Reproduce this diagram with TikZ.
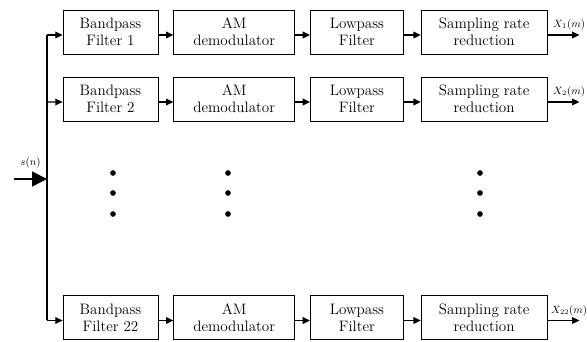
\documentclass[tikz,border=0pt]{standalone}
\usepackage{fontspec}
\usepackage{tikz}
\usetikzlibrary{arrows.meta,positioning}

\begin{document}
\begin{tikzpicture}[
    node distance=0.45cm,
    block/.style={rectangle, draw, line width=0.6pt, align=center, inner sep=0pt, minimum height=1.32cm, font=\rmfamily\fontsize{12.9}{14.6}\selectfont},
    arrow/.style={-{Triangle[length=0.22cm, width=0.2cm]}, line width=1.1pt},
    bigarrow/.style={-{Triangle[length=0.45cm, width=0.45cm]}, line width=1.3pt},
    dot/.style={circle, fill, inner sep=0pt, minimum size=0.17cm}
]
\useasboundingbox (0,0) rectangle (17.61,-10.26);

% Channel rows
\foreach \r/\y/\k in {1/-0.96/1, 2/-2.97/2, 3/-9.525/22} {
  \node[block, minimum width=2.85cm] (bp\r) at (3.315,\y) {Bandpass\\Filter \k};
  \node[block, minimum width=3.63cm, right=of bp\r] (am\r) {AM\\demodulator};
  \node[block, minimum width=2.79cm, right=of am\r] (lp\r) {Lowpass\\Filter};
  \node[block, minimum width=3.78cm, right=0.51cm of lp\r] (sr\r) {Sampling rate\\reduction};
  \coordinate[right=0.96cm of sr\r] (out\r);
  \coordinate (bus\r) at (1.41,\y-0.09);

  \draw[arrow] (bus\r) -- ([yshift=-0.09cm]bp\r.west);
  \draw[arrow] ([yshift=-0.09cm]bp\r.east) -- ([yshift=-0.09cm]am\r.west);
  \draw[arrow] ([yshift=-0.09cm]am\r.east) -- ([yshift=-0.09cm]lp\r.west);
  \draw[arrow] ([yshift=-0.09cm]lp\r.east) -- ([yshift=-0.09cm]sr\r.west);
  \draw[arrow] ([yshift=-0.09cm]sr\r.east) -- ([yshift=-0.09cm]out\r)
    node[midway, above, xshift=0.17cm, font=\small] {$X_{\k}(m)$};
}

% Input bus
\draw[line width=1.1pt] (bus1) -- (bus3);
\coordinate (sig) at (0.42,-5.37);
\coordinate (busin) at (1.41,-5.37);
\draw[bigarrow] (sig) -- (busin) node[midway, above=0.2cm, font=\small] {$s(n)$};

% Omitted channels
\foreach \x [count=\i] in {3.39,6.84,14.4}
  \foreach \y [count=\j] in {-5.19,-5.79,-6.42}
    \node[dot] (dot\i\j) at (\x,\y) {};

\end{tikzpicture}
\end{document}
